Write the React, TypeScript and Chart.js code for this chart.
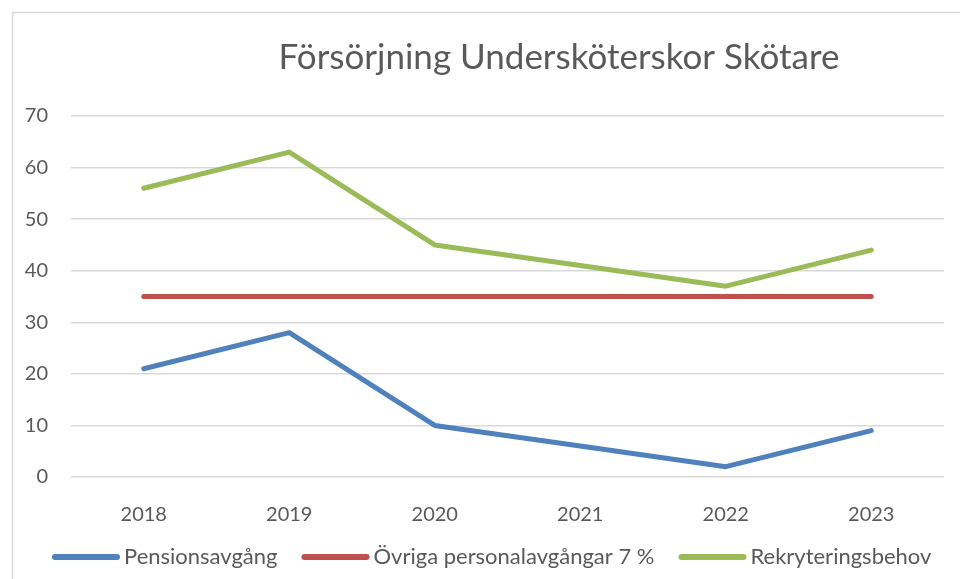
import { useEffect, useRef } from 'react';
import { Chart, registerables } from 'chart.js';

Chart.register(...registerables);

const TITLE = 'Försörjning Undersköterskor Skötare';
const YEARS = ['2018', '2019', '2020', '2021', '2022', '2023'];
const PENSIONSAVGANG = [21, 28, 10, 6, 2, 9];
const OVRIGA = [35, 35, 35, 35, 35, 35];
const REKRYTERING = [56, 63, 45, 41, 37, 44];
const SERIES_NAMES = ['Pensionsavgång', 'Övriga personalavgångar 7 %', 'Rekryteringsbehov'];
const COLORS = ['#4f81bd', '#c0504d', '#9bbb59'];

const FONT = 'Lato, "Open Sans", sans-serif';
const TEXT = '#595959';

export default function App() {
  const ref = useRef<HTMLCanvasElement | null>(null);

  useEffect(() => {
    if (!ref.current) return;
    const frame = {
      id: 'frame',
      beforeDraw(chart: any) {
        const ctx = chart.ctx;
        ctx.save();
        ctx.fillStyle = '#ffffff';
        ctx.fillRect(0, 0, chart.width, chart.height);
        ctx.strokeStyle = '#d9d9d9';
        ctx.lineWidth = 1.5;
        ctx.strokeRect(12.5, 12.5, 2000, 2000);
        ctx.restore();
      },
      afterDraw(chart: any) {
        const ctx = chart.ctx;
        ctx.save();
        // title
        ctx.fillStyle = TEXT;
        ctx.font = `35px ${FONT}`;
        ctx.textAlign = 'center';
        ctx.textBaseline = 'alphabetic';
        ctx.fillText(TITLE, 559, 69);
        // legend
        ctx.font = `22px ${FONT}`;
        ctx.textAlign = 'left';
        ctx.textBaseline = 'middle';
        let x = 55;
        const y = 557;
        chart.data.datasets.forEach((ds: any) => {
          ctx.strokeStyle = ds.borderColor;
          ctx.lineWidth = 6;
          ctx.lineCap = 'round';
          ctx.beginPath();
          ctx.moveTo(x, y);
          ctx.lineTo(x + 62, y);
          ctx.stroke();
          ctx.fillStyle = TEXT;
          ctx.fillText(ds.label, x + 69, y);
          x += 69 + ctx.measureText(ds.label).width + 27;
        });
        ctx.restore();
      },
    };
    const seriesData = [PENSIONSAVGANG, OVRIGA, REKRYTERING];
    const chart = new Chart(ref.current, {
      type: 'line',
      data: {
        labels: YEARS,
        datasets: seriesData.map((d, i) => ({
          label: SERIES_NAMES[i],
          data: d,
          borderColor: COLORS[i],
          backgroundColor: COLORS[i],
          borderWidth: 5,
          pointRadius: 0,
          tension: 0,
          borderCapStyle: 'round' as const,
          borderJoinStyle: 'round' as const,
          fill: false,
        })),
      },
      options: {
        animation: false,
        responsive: false,
        devicePixelRatio: 1,
        layout: { padding: { top: 116, left: 24, right: 16, bottom: 46 } },
        plugins: {
          title: { display: false },
          tooltip: { enabled: false },
          legend: { display: false },
        },
        scales: {
          x: {
            offset: true,
            grid: { display: false, drawTicks: false },
            border: { display: false },
            ticks: { color: TEXT, font: { family: FONT, size: 20 }, padding: 26 },
            afterFit(scale: any) {
              scale.height = 56;
            },
          },
          y: {
            min: 0,
            max: 70,
            grid: { color: '#d9d9d9', lineWidth: 1.5, drawTicks: false },
            border: { display: false },
            ticks: { stepSize: 10, color: TEXT, font: { family: FONT, size: 20 }, padding: 23 },
            afterFit(scale: any) {
              scale.width = 47;
            },
          },
        },
      },
      plugins: [frame],
    } as any);
    return () => chart.destroy();
  }, []);

  return (
    <div style={{ position: 'fixed', left: 0, top: 0, width: 960, height: 579, overflow: 'hidden' }}>
      <canvas ref={ref} width={960} height={579} />
    </div>
  );
}
